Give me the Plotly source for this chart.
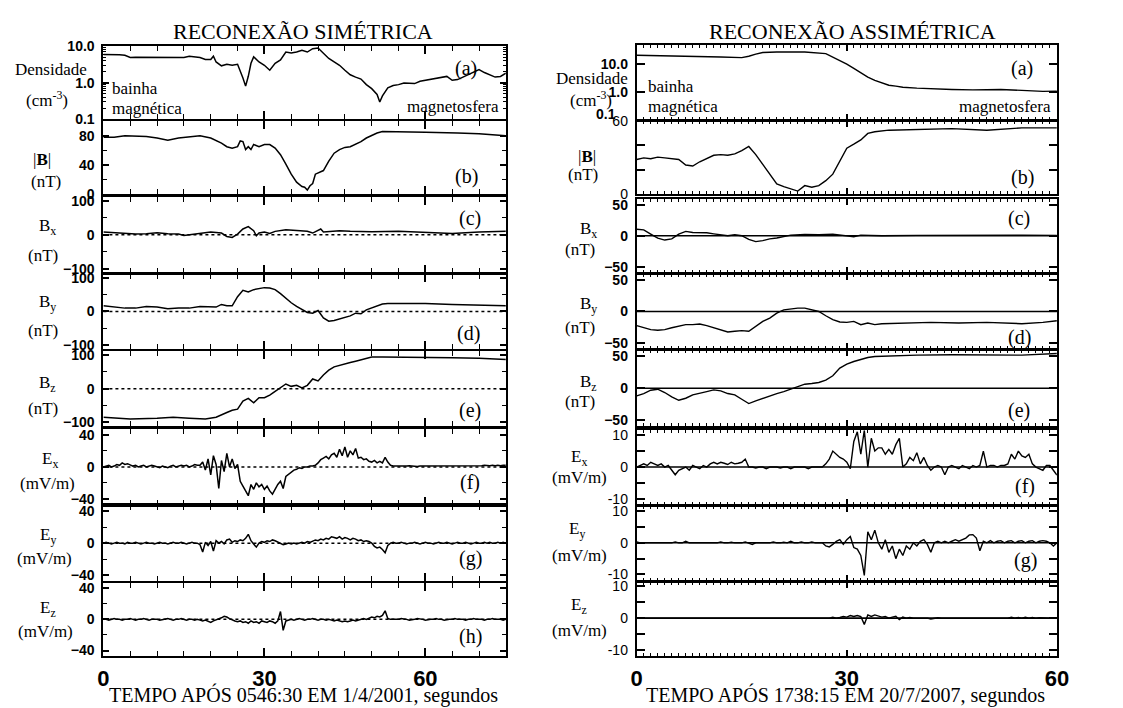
import plotly.graph_objects as go

W, H = 1123, 708
SERIF = "Liberation Serif"
SANS = "Liberation Sans"

# ======================= LEFT: RECONEXÃO SIMÉTRICA =======================
LD_X = [0,1,2,3,4,5,6,7,8,9,10,11,12,13,14,15,16,17,18,19,20,20.5,21,22,23,24,25,26,26.5,27,27.5,28,28.5,29,
        30,31,32,33,34,35,36,37,38,39,40,41,42,43,44,45,46,47,48,49,50,51,51.5,52,53,54,55,56,57,58,59,60,62,
        64,65,66,67,68,69,70,71,72,73,74,75]
LD_Y = [5.9,5.9,5.9,5.8,5.6,4.9,5.0,5.0,4.9,5.0,5.0,4.9,4.9,5.0,4.9,4.9,5.3,5.1,4.9,4.3,4.3,5.3,3.7,2.9,3.2,3.0,3.2,1.35,0.81,1.5,3.4,5.1,4.3,3.7,
        3.0,2.2,3.4,4.2,6.9,6.5,6.9,7.7,6.9,8.5,8.9,6.3,4.6,3.7,3.0,2.2,1.65,1.43,1.26,0.89,0.69,0.48,0.30,0.44,0.73,0.84,0.89,0.99,0.99,0.95,1.10,1.17,1.35,
        1.49,1.17,1.22,1.43,1.65,2.0,2.3,1.9,1.65,1.43,1.49,1.83]

LB_X = [0,2,4,6,8,10,12,14,16,18,20,21,22,23,24,25,25.5,26,26.5,27,27.5,28,29,30,31,32,33,34,35,36,37,37.5,38,38.5,39,39.5,40,
        41,42,43,44,45,46,47,48,49,50,51,52,54,60,66,70,75]
LB_Y = [78,78,80,80,79,77,74,77,79,80,77,74,70,65,63,65,73,72,61,65,61,68,65,68,68,63,54,41,27,16,10,9,5,11,14,27,29,
        32,45,56,61,64,65,68,72,77,81,84,86,86,85,84,83,80]

LBX_X = [0,2,4,6,8,10,12,14,15,16,18,19,20,22,23,24,25,26,27,28,28.5,29,30,31,32,34,36,38,39,40,40.5,41,42,44,46,50,55,60,65,70,75]
LBX_Y = [8,6,3,2,3,6,3,2,-2,0,3,6,8,5,-5,-8,2,17,24,12,-3,5,8,4,10,15,12,10,5,12,17,8,10,12,10,9,10,8,4,8,10]

LBY_X = [0,2,4,6,8,10,12,14,16,18,20,21,22,23,24,25,26,27,28,29,30,31,32,33,34,35,36,37,38,39,40,
         41,42,43,44,45,46,47,48,49,50,51,52,53,55,58,60,65,70,75]
LBY_Y = [17,13,10,10,15,13,8,10,10,15,15,13,21,17,17,44,63,58,65,68,71,70,65,53,39,26,15,7,-3,-5,3,
         -19,-29,-27,-22,-17,-13,-5,-7,5,10,15,22,24,24,26,24,21,18,17]

LBZ_X = [0,3,5,10,13,16,19,21,22,23,24,25,26,27,28,29,30,31,32,33,34,35,36,37,38,39,40,
         41,42,43,44,45,46,47,48,49,50,52,55,60,65,70,75]
LBZ_Y = [-85,-87,-90,-88,-85,-88,-90,-85,-79,-71,-64,-61,-37,-29,-42,-27,-27,-19,-8,4,14,7,10,2,10,29,23,
         41,55,65,70,75,78,82,86,91,94,94,94,92,92,91,87]

T_LEFT_E = [i / 2 for i in range(151)]  # 0.5 s sampling, 0..75 s
LEX = [0, 1, 2, 0, 1, 3, 2, 5, 3, 4,
       2, 1, 2, 0, 1, 2, 0, 1, 2, 1,
       0, -1, 1, 0, -1, 1, 2, 0, 1, 2,
       1, 2, 0, 1, 3, 2, 2, 6, -4, 10,
       -10, 14, 3, -27, 8, -6, 17, 0, 10, -2,
       3, -18, -24, -30, -36, -22, -28, -20, -25, -22,
       -28, -24, -30, -34, -28, -22, -18, -27, -12, -9,
       -6, -4, -3, -1, -2, 0, 0, 1, 1, 2,
       5, 9, 11, 13, 10, 15, 17, 12, 22, 14,
       25, 12, 20, 15, 23, 11, 12, 9, 10, 7,
       6, 8, 5, 7, 5, 12, 6, 2, 1, 1,
       1, 1, 0.5, 1, 1.5, 1, 1, 0.5, 1, 1,
       1.5, 1, 1, 1.5, 1, 1, 1.5, 1, 1, 1.5,
       1, 1.5, 1, 1, 1.5, 1.5, 1, 1.5, 1.5, 1,
       1.5, 1.5, 2, 1.5, 1.5, 2, 1.5, 2, 1.5, 2,
       2]
LEY = [0, 1, 0, -1, 0, 1, 0, 0, -1, 1,
       0, 0, 1, 0, -1, 0, 1, 0, 0, -1,
       0, 1, 0, 0, -1, 0, 1, 0, 0, 1,
       0, -1, 0, 1, 0, 0, -2, -11, 1, -3,
       2, -10, 3, 0, 2, -1, 4, 5, 1, 3,
       2, 4, 3, 6, 11, 3, -1, -5, 0, 2,
       1, 3, 2, 4, 3, 1, 0, -2, -1, 0,
       -1, 0, -1, 0, 1, 0, 2, 1, 3, 4,
       3, 5, 4, 6, 5, 8, 7, 6, 8, 5,
       7, 6, 4, 6, 5, 3, 4, 2, 3, 2,
       0, -4, -6, -5, -8, -12, -3, 0, 1, 0,
       0, 1, 0, -1, 0, 0, 1, 0, -1, 0,
       1, 0, 0, -1, 0, 1, 0, 0, 1, 0,
       -1, 0, 1, 0, 0, 1, 0, -1, 0, 1,
       0, 0, 1, 0, 1, 0, 0, 1, 0, 1,
       0]
LEZ = [0, 0, -1, 0, 1, 0, 0, -1, 0, 0,
       1, 0, -1, 0, 0, 1, 0, -1, 0, 0,
       0, -1, 0, 0, 1, 0, -1, 0, 0, 1,
       0, -1, 0, 0, -1, 0, -1, -2, -1, -3,
       -4, -2, -1, 1, 2, 4, 3, 1, -1, -2,
       -3, -2, -4, -3, -5, -2, -4, -3, -5, -2,
       -3, -4, -2, -3, -5, -2, 10, -14, -2, -1,
       0, -1, 0, 1, 0, -1, 0, 0, 1, 0,
       -1, 0, 0, -1, 0, -1, -2, -1, -2, -3,
       -2, -3, -2, -1, -2, -1, 0, 1, 0, 2,
       3, 2, 4, 3, 5, 11, 1, 0, 0, 0,
       0, 1, 0, 0, -1, 0, 0, 1, 0, 0,
       -1, 0, 0, 0, 1, 0, 0, -1, 0, 0,
       0, 1, 0, 0, 0, -1, 0, 0, 1, 0,
       0, 0, -1, 0, 0, 1, 0, 0, 0, -1,
       0]

# ======================= RIGHT: RECONEXÃO ASSIMÉTRICA =======================
RD_X = [0,4,8,10,12,15,16,17,18,20,24,27,28,29,30,31,32,33,34,35,36,37,38,40,42,45,48,52,55,58,60]
RD_Y = [20,19.5,18,17.8,17.5,16.6,18.5,22,25,26.3,26.3,23,17.6,13.5,9.8,6.9,4.9,3.4,2.6,2.1,
        1.75,1.62,1.49,1.38,1.31,1.24,1.2,1.24,1.15,1.06,1.08]

RB_X = [0,1,2,3,4,5,6,7,8,9,10,11,12,13,14,15,16,17,18,19,20,21,22,23,24,25,26,27,28,29,30,31,32,33,34,
        36,40,45,50,55,60]
RB_Y = [28.4,29.7,29,30.3,29.7,29,28.4,23.8,23,26.5, 29,31.9,32.4,31.9,33,35.7,39.2,32.4,24.3,16.2,
        8.1,5.9,4.1,2.2,6.7,5.4,6.7,10.8,16.2,27, 37.8,41.1,44.6,50,51.4, 52.7,53.5,54,52.7,54.6,54.6]

RBX_X = [0,1,2,3,4,5,6,7,8,10,11,12,13,14,15,16,17,18,19,20,21,22,24,26,28,30,31,32,35,40,45,50,55,60]
RBX_Y = [10.5,9.5,2.6,-4,-7,-5,2.6,7,5.3,4.7,3,1,0,1.6,0,-6,-9.5,-8,-5,-3.7,-1.6,1,2,1.6,2.6,0,-1.6,1,0,0.5,1,0.5,1,0.5]

RBY_X = [0,1,2,3,4,5,6,7,8,9,10,11,12,13,14,15,16,17,18,19,20,21,22,23,24,25,26,27,28,29,30,31,32,33,34,35,
         38,42,46,50,55,58,60]
RBY_Y = [-22.6,-26,-29,-30,-29,-26,-23.7,-21,-21,-20, -22.6,-26,-30,-32.6,-31.6,-30.5,-31.6,-23.7,-15.8,-10.5,
         -2.6,2.6,4.2,5.3,5.3,2.6,0,-6.8,-13,-16.8, -17.4,-15.8,-21,-18.4,-21,-19.5,
         -18.4,-17.4,-18.4,-17.4,-19.5,-17.4,-14.7]

RBZ_X = [0,1,2,3,4,5,6,7,8,9,10,11,12,13,14,15,16,17,18,19,20,21,22,23,24,25,26,27,28,29,30,31,32,33,34,
         36,40,45,50,55,60]
RBZ_Y = [-12,-8.4,-3.2,-1.6,-6.8,-13.7,-19,-15.8,-10.5,-8.4, -5.3,-2.6,-4.2,-8.4,-10.5,-17.4,-24.2,-20,-15.8,-12,
         -8.4,-5.3,-1.6,2.1,6.3,7.4,9,12.6,19.5,31.6, 37.9,42,45.8,48.4,50, 51,52,52.6,52.6,52,54.7]

T_RIGHT_E = [i / 2 for i in range(121)]  # 0.5 s sampling, 0..60 s
REX = [0, 0.5, 1, 0.5, 1.5, 1, 0.5, 1, 0, 0.5,
       -1, -2.4, -1, -0.5, 0, -1, 0.5, 0, -0.5, 0.5,
       0, 1, 1.5, 1, 1.5, 1.2, 0.8, 1.5, 1, 1.2,
       1.5, 2.5, 0, 0, -0.3, 0, 0, -0.5, 0, 0,
       0, -0.3, 0, 0, -0.5, 0, 0, 0, 0, -0.5,
       0, 0, 0, 0, 1, 2.5, 5, 4, 3, 2.5,
       1.5, -0.5, 8, 11, 4, 11.5, 0, 9, 5, 6,
       6, 4, 5.5, 4, 7, 9, 0, 1, 3, 2,
       4.5, 1, 3, 0.5, -1, 0, 0.5, 0, -2.4, 0,
       0.5, 0, -0.5, 0.5, 0, -0.5, 0.5, 0, 0.5, 5,
       0, 0.5, 0.5, 0, 0.5, 0.5, 1, 4, 2.5, 5,
       3.5, 3, 4, 1, 0, -0.5, -1, 0.5, 0.5, -1,
       -2.5]
REY = [0.3, 0, 0, 0, 0.2, 0, 0, 0.2, 0, 0,
       0, 0.3, 0, 0, 0.5, 0, 0, 0.2, 0, 0,
       0.2, 0, 0, 0, 0.3, 0, 0, 0.2, 0, 0,
       0, 0.3, 0, -0.5, 0, 0, 0.2, 0, 0, 0.3,
       0, 0, 0.2, 0, 0.5, 0, 0, 0.3, 0, 0,
       0.3, 0, 0, 0, -1, -1.3, -0.5, 0.5, 1, -0.5,
       1, 2, -1.5, -2, -4, -10.3, 3.5, 1, 4, 0,
       -2, 1, -3, -1, -5, -2, -4, -1, -2, 0,
       -1, 0.5, 1, -0.5, -3, 0, 0.5, 0, 0.5, 0,
       0.5, 1, 0.5, 1, 1.5, 2.5, 2.6, 1.5, -2.5, 0.5,
       0, 0.7, 0, 0.5, 0.7, 0, 0.5, 0.7, 0, 0.5,
       0.7, 0, 0.5, 0.7, 0, 0.5, 0.7, 0.5, 0, -1,
       0]
REZ = [0, 0, 0.1, 0, 0, 0, 0.1, 0, 0, 0,
       0, 0.1, 0, 0, 0, 0, 0.1, 0, 0, 0,
       0, 0, 0, 0.1, 0, 0, 0, 0, 0.1, 0,
       0, 0, 0, 0, 0.1, 0, 0, 0, 0, 0,
       0.1, 0, 0, 0, 0, 0, 0.1, 0, 0, 0,
       0, 0, 0.1, 0, 0.2, 0, 0.3, 0, 0.2, 0.5,
       0.3, 0.8, 0.5, 0.8, 0.5, -2, 1, 0.5, 1, 0.6,
       0.3, 0.5, 0, 0.3, 0.6, -0.5, 0.3, 0, 0.2, 0,
       0, 0.1, 0, 0, -0.3, 0, 0.1, 0, 0, 0,
       0.1, 0, 0, 0.2, 0, 0, 0.2, 0, 0, 0.1,
       0, 0.2, 0, 0.1, 0, 0.2, 0, 0.3, 0, 0.2,
       0, 0.3, 0, 0.2, 0, 0.1, 0, 0, 0, 0,
       0]

LETTERS = ["(a)", "(b)", "(c)", "(d)", "(e)", "(f)", "(g)", "(h)"]

# ---------------- layout geometry (pixels) ----------------
LEFT_X_PX = (99, 508)
RIGHT_X_PX = (641, 1068)
LEFT_Y_PX = [(39, 114), (116, 190), (193, 271), (272, 349), (351, 428), (431, 508), (509, 586), (588, 663)]
RIGHT_Y_PX = [(38, 115), (116, 190), (195, 271), (272, 349), (350, 428), (432, 509), (510, 586), (587, 663)]

MINUS = "\u2212"
B_TICKS = [-100, 0, 100]
B_TEXT = [MINUS + "100", "0", "100"]
EL_TICKS = [-40, 0, 40]
EL_TEXT = [MINUS + "40", "0", "40"]
BR_TICKS = [-50, 0, 50]
BR_TEXT = [MINUS + "50", "0", "50"]
ER_TICKS = [-10, 0, 10]
ER_TEXT = ["-10", "0", "10"]

panels = [
    # left column
    dict(col="L", x=LD_X, y=LD_Y, type="log", range=[-1, 1], tv=[0.1, 1, 10], tt=["0.1", "1.0", "10.0"], zero=None),
    dict(col="L", x=LB_X, y=LB_Y, range=[0, 100], tv=[0, 40, 80], tt=["0", "40", "80"], minor=[20, 60], zero=None),
    dict(col="L", x=LBX_X, y=LBX_Y, range=[-112, 112], tv=B_TICKS, tt=B_TEXT, minor=[-50, 50], zero="dot"),
    dict(col="L", x=LBY_X, y=LBY_Y, range=[-112, 112], tv=B_TICKS, tt=B_TEXT, minor=[-50, 50], zero="dot"),
    dict(col="L", x=LBZ_X, y=LBZ_Y, range=[-112, 112], tv=B_TICKS, tt=B_TEXT, minor=[-50, 50], zero="dot"),
    dict(col="L", x=T_LEFT_E, y=LEX, range=[-47, 47], tv=EL_TICKS, tt=EL_TEXT, minor=[-20, 20], zero="dot"),
    dict(col="L", x=T_LEFT_E, y=LEY, range=[-47, 47], tv=EL_TICKS, tt=EL_TEXT, minor=[-20, 20], zero="dot"),
    dict(col="L", x=T_LEFT_E, y=LEZ, range=[-47, 47], tv=EL_TICKS, tt=EL_TEXT, minor=[-20, 20], zero="dot"),
    # right column
    dict(col="R", x=RD_X, y=RD_Y, type="log", range=[-1, 1.66], tv=[1, 10], tt=["1.0", "10.0"], minor=[0.1], zero=None),
    dict(col="R", x=RB_X, y=RB_Y, range=[0, 60], tv=[0, 60], tt=["0", "60"], minor=[20, 40], zero=None),
    dict(col="R", x=RBX_X, y=RBX_Y, range=[-60, 60], tv=BR_TICKS, tt=BR_TEXT, zero="solid"),
    dict(col="R", x=RBY_X, y=RBY_Y, range=[-60, 60], tv=BR_TICKS, tt=BR_TEXT, zero="solid"),
    dict(col="R", x=RBZ_X, y=RBZ_Y, range=[-60, 60], tv=BR_TICKS, tt=BR_TEXT, zero="solid"),
    dict(col="R", x=T_RIGHT_E, y=REX, range=[-12, 11.5], tv=ER_TICKS, tt=ER_TEXT, minor=[-5, 5], zero="solid"),
    dict(col="R", x=T_RIGHT_E, y=REY, range=[-12, 11.5], tv=ER_TICKS, tt=ER_TEXT, minor=[-5, 5], zero="solid"),
    dict(col="R", x=T_RIGHT_E, y=REZ, range=[-12, 11.5], tv=ER_TICKS, tt=ER_TEXT, minor=[-5, 5], zero="solid"),
]

fig = go.Figure()
layout = {}
shapes = []

for n, p in enumerate(panels, start=1):
    k = (n - 1) % 8
    left = p["col"] == "L"
    xpx = LEFT_X_PX if left else RIGHT_X_PX
    ypx = (LEFT_Y_PX if left else RIGHT_Y_PX)[k]
    xdom = [xpx[0] / W, xpx[1] / W]
    ydom = [1 - ypx[1] / H, 1 - ypx[0] / H]
    bottom = (k == 7)
    sfx = "" if n == 1 else str(n)

    fig.add_trace(go.Scatter(
        x=p["x"], y=p["y"], mode="lines", xaxis="x" + sfx, yaxis="y" + sfx,
        line=dict(color="black", width=1.5 if left else 1.4),
        showlegend=False, hoverinfo="skip"))

    xa = dict(
        domain=xdom, anchor="y" + sfx, range=[0, 75] if left else [0, 60],
        showline=True, mirror="ticks", linewidth=2, linecolor="black",
        ticks="inside", tickvals=[0, 30, 60], ticktext=["0", "30", "60"],
        ticklen=8 if left else 6, tickwidth=1.5, tickcolor="black",
        showgrid=False, zeroline=False, showticklabels=bottom,
        tickfont=dict(family=SANS, size=22, color="black", weight="bold"),
        ticklabelstandoff=2,
        minor=dict(ticks="inside", dtick=5 if left else 1, tick0=0,
                   ticklen=5 if left else 3, tickwidth=1.2 if left else 1,
                   tickcolor="black", showgrid=False),
    )
    if left or k in (0, 2, 3, 4):
        yfont = dict(family=SANS, size=14, color="black", weight="bold")
    else:
        yfont = dict(family=SANS, size=14, color="black")
    ya = dict(
        domain=ydom, anchor="x" + sfx, range=p["range"], type=p.get("type", "linear"),
        showline=True, mirror="ticks", linewidth=2, linecolor="black",
        ticks="inside", tickvals=p["tv"], ticktext=p["tt"],
        ticklen=6 if left else 8, tickwidth=1.5, tickcolor="black",
        showgrid=False, zeroline=False, tickfont=yfont, ticklabelstandoff=4,
    )
    if p.get("minor"):
        ya["minor"] = dict(ticks="inside", tickvals=p["minor"], ticklen=4 if left else 8,
                           tickwidth=1.2 if left else 1.5, tickcolor="black", showgrid=False)
    if p.get("type") == "log" and left:
        ya["minor"] = dict(ticks="inside", dtick="D1", ticklen=3, tickwidth=1,
                           tickcolor="black", showgrid=False)
    layout["xaxis" + sfx] = xa
    layout["yaxis" + sfx] = ya

    if p["zero"]:
        shapes.append(dict(type="line", xref="x" + sfx + " domain", x0=0, x1=1,
                           yref="y" + sfx, y0=0, y1=0, layer="below",
                           line=dict(color="black", width=1.5 if p["zero"] == "dot" else 1.6,
                                     dash="dot" if p["zero"] == "dot" else "solid")))


def ann(text, x, y, size, family=SERIF, xanchor="center", bold=False):
    font = dict(family=family, size=size, color="black")
    if bold:
        font["weight"] = "bold"
    return dict(text=text, x=x / W, y=1 - y / H, xref="paper", yref="paper", showarrow=False,
                font=font, xanchor=xanchor, yanchor="middle")


annotations = [
    ann("RECONEXÃO SIMÉTRICA", 302, 24, 22),
    ann("RECONEXÃO ASSIMÉTRICA", 860, 24, 22),
    ann("TEMPO APÓS 0546:30 EM 1/4/2001, segundos", 302, 703, 20),
    ann("TEMPO APÓS 1738:15 EM 20/7/2007, segundos", 853, 703, 20),
    # left y labels
    ann("Densidade", 46, 63, 17), ann("(cm<sup>-3</sup>)", 42, 93, 17),
    ann("|<b>B</b>|", 37, 155, 17), ann("(nT)", 41, 178, 17),
    ann("B<sub>x</sub>", 42, 224, 17), ann("(nT)", 38, 253, 17),
    ann("B<sub>y</sub>", 42, 302, 17), ann("(nT)", 38, 330, 17),
    ann("B<sub>z</sub>", 42, 385, 17), ann("(nT)", 38, 410, 17),
    ann("E<sub>x</sub>", 45, 462, 17), ann("(mV/m)", 42, 487, 17),
    ann("E<sub>y</sub>", 43, 540, 17), ann("(mV/m)", 39, 563, 17),
    ann("E<sub>z</sub>", 43, 615, 17), ann("(mV/m)", 40, 638, 17),
    # right y labels
    ann("Densidade", 596, 72, 17), ann("(cm<sup>-3</sup>)", 595, 93, 17),
    ann("0.1", 622, 108, 14, family=SANS, xanchor="right", bold=True),
    ann("|<b>B</b>|", 590, 152, 17), ann("(nT)", 586, 170, 17),
    ann("B<sub>x</sub>", 592, 227, 17), ann("(nT)", 583, 247, 17),
    ann("B<sub>y</sub>", 592, 304, 17), ann("(nT)", 583, 327, 17),
    ann("B<sub>z</sub>", 592, 384, 17), ann("(nT)", 583, 403, 17),
    ann("E<sub>x</sub>", 582, 460, 17), ann("(mV/m)", 583, 480, 17),
    ann("E<sub>y</sub>", 580, 534, 17), ann("(mV/m)", 583, 560, 17),
    ann("E<sub>z</sub>", 582, 612, 17), ann("(mV/m)", 583, 637, 17),
    # in-panel texts
    ann("bainha", 106, 82, 17, xanchor="left"), ann("magnética", 106, 103, 17, xanchor="left"),
    ann("magnetosfera", 503, 101, 17, xanchor="right"),
    ann("bainha", 650, 80, 17, xanchor="left"), ann("magnética", 650, 101, 17, xanchor="left"),
    ann("magnetosfera", 1064, 101, 17, xanchor="right"),
]

LEFT_LETTER_POS = [(468, 62), (468, 172), (472, 215), (470, 333), (472, 412), (472, 485), (472, 563), (472, 643)]
RIGHT_LETTER_POS = [(1033, 62), (1033, 173), (1030, 215), (1030, 337), (1030, 412), (1036, 490), (1036, 565)]
for (x, y), t in zip(LEFT_LETTER_POS, LETTERS):
    annotations.append(ann(t, x, y, 20))
for (x, y), t in zip(RIGHT_LETTER_POS, LETTERS):
    annotations.append(ann(t, x, y, 20))

fig.update_layout(
    width=W, height=H, margin=dict(l=0, r=0, t=0, b=0),
    paper_bgcolor="white", plot_bgcolor="white",
    shapes=shapes, annotations=annotations, showlegend=False,
    **layout,
)

fig.write_html("out.html")
